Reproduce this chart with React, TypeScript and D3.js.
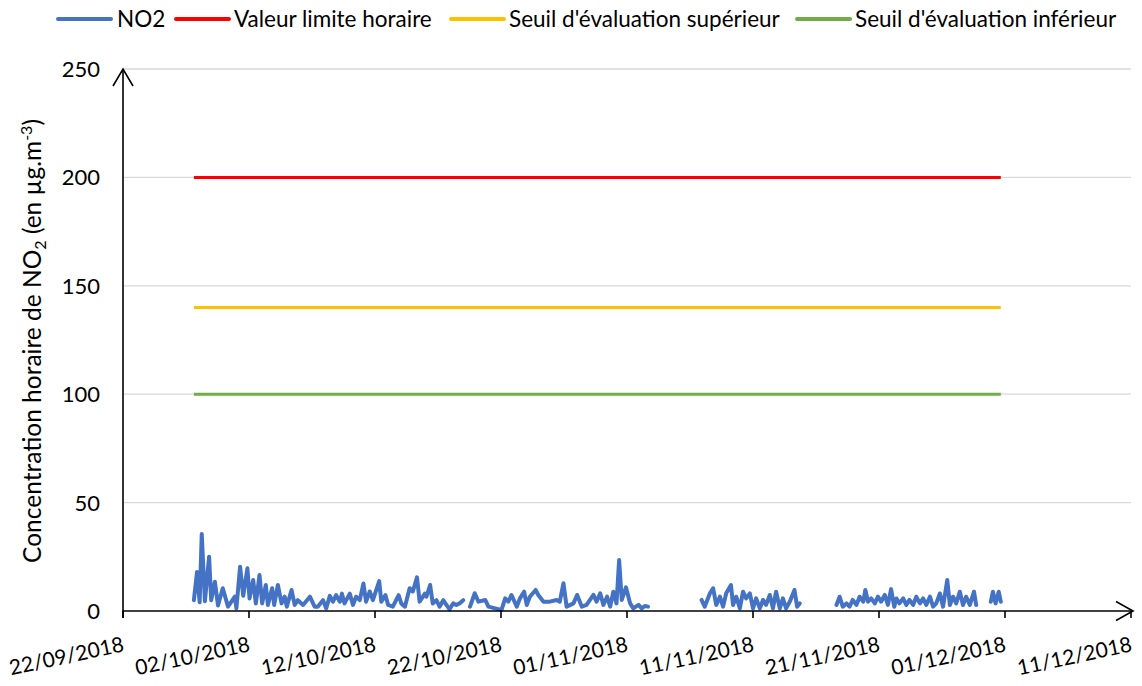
import React from "react";
import * as d3 from "d3";

// ---------- data ----------
const xTickLabels = [
  "22/09/2018", "02/10/2018", "12/10/2018", "22/10/2018", "01/11/2018",
  "11/11/2018", "21/11/2018", "01/12/2018", "11/12/2018",
];
const yTicks = [0, 50, 100, 150, 200, 250];

// hours since 27/09/2018 00:00 (UTC) and NO2 hourly concentration (µg/m3)
const seg1Hours = [15,21,26,30,36,44,48,55,61,70,80,93,96,103,109,117,121,128,133,140,145,152,156,164,168,175,182,188,192,201,207,213,223,236,245,251,261,267,274,280,286,293,297,302,312,318,324,331,338,343,350,356,368,372,380,385,394,405,410,417,426,432,440,445,455,458,465,470,477,483,490,496,502,509,515,521,528];
const seg1Values = [5,18,4,35.5,4.5,25,5,13.5,2.5,10.5,2,6.6,1.2,20.4,7,19.7,5.8,14.3,3.5,16.6,3.5,12,2.8,10.5,2.8,12,3.5,6.6,2,9.7,2.8,5,2.8,6.6,2,2,5,1.2,7,4.3,7.3,4.3,8,3.5,8,2.8,6.6,5,12.7,4.3,9,5,13.8,4.3,7.3,2.8,2,7.3,3.5,2,10.5,9,15.5,4.3,8,6.6,12,3.5,5,2,5,2.8,0.8,3.5,2.8,3.5,5];

const seg2Hours = [541,550,557,570,576,589,601,608,614,620,630,636,644,649,655,666,671,681,693,706,712,719,725,738,745,754,763,776,782,789,795,802,808,814,820,825,830,838,846,852,862,868,874,880];
const seg2Values = [2,8.2,4.3,5.1,2,1.2,0.5,5.8,4.3,7.4,2,5.8,8.9,2.8,6.6,9.7,7.4,4.3,4.3,5.1,4.3,12.8,2,3.5,7.4,2,2.8,7.4,4.3,8.2,2.8,6.6,2,8.9,3.5,23.5,5.1,10.9,3.5,1.2,2.8,1.2,2.3,2];

const seg3Hours = [982,988,998,1004,1010,1017,1023,1029,1038,1042,1048,1055,1061,1067,1074,1080,1086,1093,1099,1105,1112,1118,1124,1131,1137,1143,1150,1159,1164,1169];
const seg3Values = [5.1,2,8.2,10.5,2.8,6.6,2,8.2,12,2.8,6.6,1.2,8.9,5.8,8.1,1.2,5.8,1.2,5.1,2.8,7.4,1.2,8.9,1.2,5.8,1.2,4.3,9.7,2,3.5];

const seg4Hours = [1239,1245,1251,1258,1264,1270,1277,1283,1290,1294,1299,1305,1312,1318,1324,1331,1337,1343,1349,1353,1359,1366,1372,1378,1385,1391,1398,1404,1410,1417,1423,1429,1436,1442,1450,1455,1461,1467,1474,1480,1486,1493,1501,1505];
const seg4Values = [2.8,6.6,2,3.5,2,5.1,2.8,6.6,4.3,9.7,4.3,5.8,3.5,6.6,4.3,7.4,2.8,10.1,2,5.8,3.5,5.8,2.8,5.1,2.8,6.6,3.5,5.8,2.8,6.6,2,3.5,8.1,2,14.3,2.8,6.6,3.5,8.9,2.8,6.6,2.8,8.9,2.8];

const seg5Hours = [1533,1537,1542,1548,1552];
const seg5Values = [4.3,8.9,3.5,8.9,4.3];

const thresholdNames = ["Valeur limite horaire", "Seuil d'évaluation supérieur", "Seuil d'évaluation inférieur"];
const thresholdValues = [200, 140, 100];
const thresholdColors = ["#FF0000", "#FFC000", "#70AD47"];
const no2Name = "NO2";
const no2Color = "#4472C4";

// ---------- layout ----------
const W = 1142;
const H = 686;
const left = 123;
const right = 1131;
const top = 69;
const bottom = 611;
const FONT = "Lato, 'Noto Sans', sans-serif";

const origin = Date.UTC(2018, 8, 27, 0, 0);
const toDate = (h: number) => new Date(origin + h * 3600e3);
const parseTick = d3.utcParse("%d/%m/%Y");

export default function App() {
  const tickDates = xTickLabels.map((l) => parseTick(l) as Date);
  const x = d3.scaleUtc().domain([tickDates[0], tickDates[tickDates.length - 1]]).range([left, right]);
  const y = d3.scaleLinear().domain([0, 250]).range([bottom, top]);

  const segs: [number[], number[]][] = [
    [seg1Hours, seg1Values],
    [seg2Hours, seg2Values],
    [seg3Hours, seg3Values],
    [seg4Hours, seg4Values],
    [seg5Hours, seg5Values],
  ];
  const pts: { d: Date; v: number | null }[] = [];
  segs.forEach(([hs, vs], si) => {
    if (si > 0) pts.push({ d: toDate(hs[0] - 1), v: null });
    hs.forEach((h, i) => pts.push({ d: toDate(h), v: vs[i] }));
  });
  const line = d3
    .line<{ d: Date; v: number | null }>()
    .defined((p) => p.v != null)
    .x((p) => x(p.d))
    .y((p) => y(p.v as number));

  const firstD = toDate(seg1Hours[0]);
  const lastD = toDate(seg5Hours[seg5Hours.length - 1]);

  // legend layout
  const legendItems = [
    { name: no2Name, color: no2Color, lx: 58, tx: 117 },
    { name: thresholdNames[0], color: thresholdColors[0], lx: 176, tx: 234 },
    { name: thresholdNames[1], color: thresholdColors[1], lx: 451, tx: 509 },
    { name: thresholdNames[2], color: thresholdColors[2], lx: 797, tx: 855 },
  ];

  const axisEndX = right + 2;
  return (
    <svg width={W} height={H} style={{ position: "absolute", left: 0, top: 0, background: "#fff" }} fontFamily={FONT}>
      {/* gridlines */}
      {yTicks.filter((t) => t > 0).map((t) => (
        <line key={t} x1={left} x2={right} y1={y(t)} y2={y(t)} stroke="#D9D9D9" strokeWidth={1.3} />
      ))}
      {/* y tick labels */}
      {yTicks.map((t) => (
        <text key={t} x={100} y={y(t)} dy="0.36em" textAnchor="end" fontSize={22} fill="#000">
          {t}
        </text>
      ))}
      {/* threshold lines */}
      {thresholdValues.map((v, i) => (
        <line key={v} x1={x(firstD)} x2={x(lastD)} y1={y(v)} y2={y(v)} stroke={thresholdColors[i]} strokeWidth={3} />
      ))}
      {/* NO2 series */}
      <path d={line(pts) || ""} fill="none" stroke={no2Color} strokeWidth={4} strokeLinejoin="round" strokeLinecap="round" />
      {/* x axis */}
      <line x1={left} x2={axisEndX} y1={bottom} y2={bottom} stroke="#000" strokeWidth={1.6} />
      <path d={`M${axisEndX - 17},${bottom - 9.5}L${axisEndX},${bottom}L${axisEndX - 17},${bottom + 9.5}`} fill="none" stroke="#000" strokeWidth={1.6} />
      {tickDates.map((d, i) => (
        <line key={i} x1={x(d)} x2={x(d)} y1={bottom} y2={bottom + 7} stroke="#000" strokeWidth={1.6} />
      ))}
      {/* y axis */}
      <line x1={left} x2={left} y1={bottom + 7} y2={top} stroke="#000" strokeWidth={1.6} />
      <path d={`M${left - 10},${top + 17}L${left},${top}L${left + 10},${top + 17}`} fill="none" stroke="#000" strokeWidth={1.6} />
      {/* x tick labels */}
      {tickDates.map((d, i) => (
        <text key={i} transform={`translate(${x(d) + 2},${bottom + 40}) rotate(-12)`} textAnchor="end" fontSize={21} fill="#000">
          {xTickLabels[i]}
        </text>
      ))}
      {/* y title */}
      <text transform={`translate(41,341) rotate(-90)`} textAnchor="middle" fontSize={24.5} fill="#000">
        Concentration horaire de NO
        <tspan fontSize={16} dy={5}>2</tspan>
        <tspan dy={-5}> (en µg.m</tspan>
        <tspan fontSize={16} dy={-9}>-3</tspan>
        <tspan dy={9}>)</tspan>
      </text>
      {/* legend */}
      {legendItems.map((it) => (
        <g key={it.name}>
          <line x1={it.lx} x2={it.lx + 53} y1={19} y2={19} stroke={it.color} strokeWidth={4} strokeLinecap="round" />
          <text x={it.tx} y={19} dy="0.36em" fontSize={22.5} fill="#000">
            {it.name}
          </text>
        </g>
      ))}
    </svg>
  );
}
